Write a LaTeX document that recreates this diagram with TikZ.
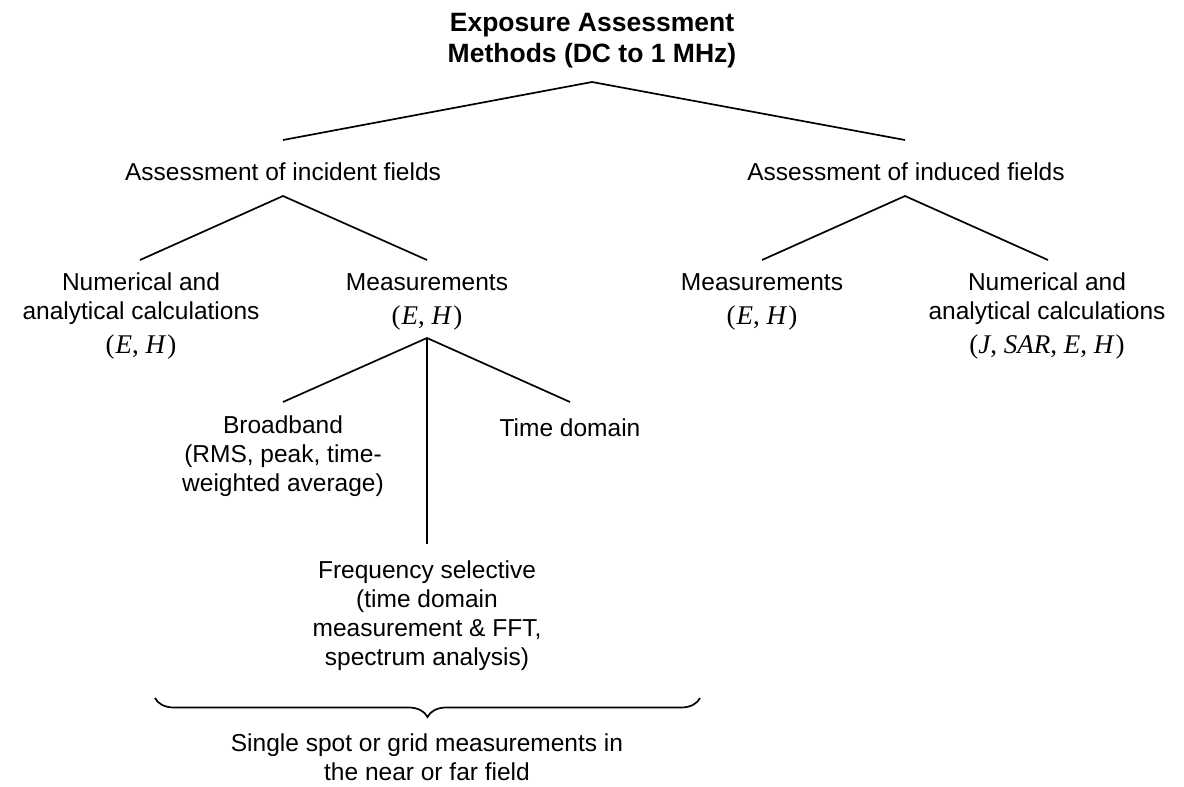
\documentclass[tikz,border=0pt]{standalone}
\usepackage{fontspec}
\setmainfont{Liberation Sans}
\newfontfamily\mathserif{Liberation Serif}
\usetikzlibrary{decorations.pathreplacing}
\newcommand\mgrp[1]{{\mathserif\fontsize{27}{29}\selectfont #1}}
\newcommand\mv[1]{\textit{#1}}
\begin{document}
\begin{tikzpicture}[x=1pt,y=1pt,
  lbl/.style={anchor=north,inner sep=0pt,align=center,font=\fontsize{24.5}{29}\selectfont},
  ttl/.style={anchor=north,inner sep=0pt,align=center,font=\fontsize{26.5}{31}\selectfont\bfseries},
  conn/.style={line width=1.7pt},
  bracestyle/.style={line width=1.7pt,decorate,decoration={brace,mirror,amplitude=19pt}}]
\useasboundingbox (0,0) rectangle (1184,-787);
% text nodes
\node[ttl] (title) at (592,-13) {Exposure Assessment\\Methods (DC to 1 MHz)};
\node[lbl] (inc) at (283,-163) {Assessment of incident fields};
\node[lbl] (ind) at (906,-163) {Assessment of induced fields};
\node[lbl] (numL) at (141,-273) {Numerical and\\analytical calculations\\[5pt]\mgrp{(\kern1pt\mv{E},\ \mv{H}\kern1pt)}};
\node[lbl] (measL) at (427,-273) {Measurements\\[5pt]\mgrp{(\kern1pt\mv{E},\ \mv{H}\kern1pt)}};
\node[lbl] (measR) at (762,-273) {Measurements\\[5pt]\mgrp{(\kern1pt\mv{E},\ \mv{H}\kern1pt)}};
\node[lbl] (numR) at (1047,-273) {Numerical and\\analytical calculations\\[5pt]\mgrp{(\mv{J},\ \mv{SAR},\ \mv{E},\ \mv{H}\kern1pt)}};
\node[lbl] (bb) at (283,-416) {Broadband\\(RMS, peak, time-\\weighted average)};
\node[lbl] (td) at (570,-419) {Time domain};
\node[lbl] (fs) at (427,-561) {Frequency selective\\(time domain\\measurement \& FFT,\\spectrum analysis)};
\node[lbl] (sg) at (427,-734) {Single spot or grid measurements in\\the near or far field};
% connector end points
\coordinate (t0) at (592,-82);
\coordinate (t1) at (283,-140);
\coordinate (t2) at (905,-140);
\coordinate (i0) at (283,-196);
\coordinate (i1) at (140,-260);
\coordinate (i2) at (427,-260);
\coordinate (d0) at (905,-196);
\coordinate (d1) at (762,-260);
\coordinate (d2) at (1048,-260);
\coordinate (m0) at (427,-338);
\coordinate (m1) at (283,-402);
\coordinate (m2) at (570,-402);
\coordinate (m3) at (427,-544);
\coordinate (b1) at (155,-698);
\coordinate (b2) at (700,-698);
% connectors
\draw[conn] (t1) -- (t0) -- (t2);
\draw[conn] (i1) -- (i0) -- (i2);
\draw[conn] (d1) -- (d0) -- (d2);
\draw[conn] (m1) -- (m0) -- (m2);
\draw[conn] (m0) -- (m3);
\draw[bracestyle] (b1) -- (b2);
\end{tikzpicture}
\end{document}
